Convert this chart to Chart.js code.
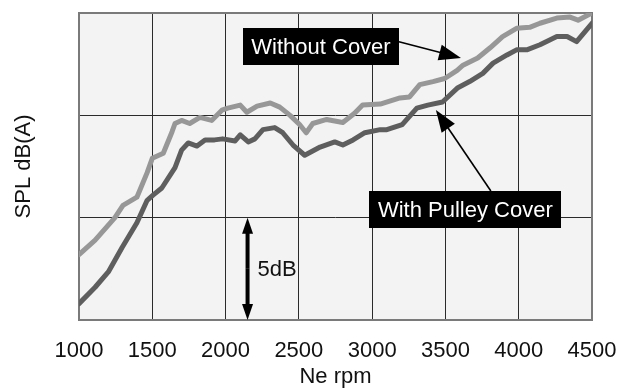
<!DOCTYPE html>
<html>
<head>
<meta charset="utf-8">
<script src="https://cdn.jsdelivr.net/npm/chart.js@4"></script>
<style>
  html, body { margin: 0; padding: 0; background: #fff; }
</style>
</head>
<body>
<canvas id="chart" width="618" height="388"></canvas>
<script>
(function () {
    // engine speed (rpm) and sound pressure level (dB, relative) for each run
    var rpmWithout = [1000, 1110, 1245, 1300, 1395, 1465, 1500, 1575, 1635, 1655, 1700, 1755, 1825, 1905, 1975, 2015,
        2100, 2145, 2215, 2305, 2370, 2440, 2505, 2550, 2595, 2690, 2800, 2880, 2935, 3055, 3190, 3255,
        3325, 3415, 3495, 3580, 3620, 3720, 3805, 3890, 3985, 4075, 4145, 4260, 4350, 4405, 4500];
    var splWithout = [3.2, 3.9, 5.0, 5.6, 6.0, 7.2, 7.9, 8.15, 9.2, 9.6, 9.75, 9.6, 9.9, 9.75, 10.25, 10.35,
        10.5, 10.15, 10.45, 10.6, 10.4, 10.0, 9.55, 9.15, 9.6, 9.8, 9.65, 10.1, 10.5, 10.55, 10.85, 10.9,
        11.5, 11.65, 11.8, 12.2, 12.45, 12.8, 13.3, 13.85, 14.25, 14.3, 14.5, 14.75, 14.8, 14.65, 15.0];

    var rpmPulley = [1000, 1110, 1200, 1295, 1395, 1465, 1505, 1565, 1655, 1700, 1745, 1805, 1860, 1925, 1980, 2065,
        2100, 2155, 2200, 2255, 2335, 2390, 2460, 2540, 2645, 2745, 2800, 2870, 2950, 3055, 3100, 3205,
        3305, 3380, 3480, 3585, 3665, 3755, 3825, 3920, 3985, 4055, 4145, 4260, 4330, 4395, 4500];
    var splPulley = [0.8, 1.6, 2.35, 3.55, 4.75, 5.85, 6.1, 6.45, 7.45, 8.3, 8.65, 8.5, 8.8, 8.8, 8.85, 8.75,
        9.05, 8.7, 8.85, 9.3, 9.4, 9.15, 8.55, 8.05, 8.45, 8.7, 8.55, 8.8, 9.15, 9.3, 9.3, 9.55,
        10.35, 10.5, 10.65, 11.35, 11.65, 12.05, 12.55, 12.95, 13.2, 13.2, 13.45, 13.85, 13.85, 13.6, 14.5];

    var seriesNames = ['Without Cover', 'With Pulley Cover'];
    var rpmTicks = [1000, 1500, 2000, 2500, 3000, 3500, 4000, 4500];

    var FONT = "'Liberation Sans', Arial, sans-serif";

    var toPoints = (xs, ys) => xs.map((x, i) => ({ x: x, y: ys[i] }));

    // callouts placed in data units so they follow the scales
    var callouts = [
        { text: seriesNames[0], box: [2651, 13.35], from: [3183, 13.6], to: [3606, 12.8] },
        { text: seriesNames[1], box: [3636, 5.4], from: [3810, 6.3], to: [3435, 10.26] }
    ];
    var scaleBar = { rpm: 2150, from: 0, to: 5, text: '5dB' };

    var drawArrow = (ctx, x1, y1, x2, y2, len, half) => {
        var a = Math.atan2(y2 - y1, x2 - x1), c = Math.cos(a), s = Math.sin(a);
        ctx.beginPath();
        ctx.moveTo(x1, y1);
        ctx.lineTo(x2 - c * len * 0.7, y2 - s * len * 0.7);
        ctx.stroke();
        ctx.beginPath();
        ctx.moveTo(x2, y2);
        ctx.lineTo(x2 - c * len + s * half, y2 - s * len - c * half);
        ctx.lineTo(x2 - c * len - s * half, y2 - s * len + c * half);
        ctx.closePath();
        ctx.fill();
    };

    var decorations = {
        id: 'decorations',
        beforeDraw: function (chart) {
            var a = chart.chartArea, ctx = chart.ctx;
            ctx.save();
            ctx.fillStyle = '#f3f3f3';
            ctx.fillRect(a.left, a.top, a.right - a.left, a.bottom - a.top);
            ctx.restore();
        },
        beforeDatasetsDraw: function (chart) {
            var a = chart.chartArea, ctx = chart.ctx;
            ctx.save();
            ctx.strokeStyle = '#7a7a7a';
            ctx.lineWidth = 2;
            ctx.strokeRect(a.left, a.top, a.right - a.left, a.bottom - a.top);
            ctx.restore();
        },
        afterDatasetsDraw: function (chart) {
            var ctx = chart.ctx, sx = chart.scales.x, sy = chart.scales.y;
            ctx.save();
            ctx.font = '22px ' + FONT;
            ctx.textBaseline = 'middle';

            callouts.forEach(function (c) {
                ctx.strokeStyle = '#000';
                ctx.fillStyle = '#000';
                ctx.lineWidth = 1.6;
                drawArrow(ctx, sx.getPixelForValue(c.from[0]), sy.getPixelForValue(c.from[1]),
                    sx.getPixelForValue(c.to[0]), sy.getPixelForValue(c.to[1]), 22, 8);

                var cx = sx.getPixelForValue(c.box[0]), cy = sy.getPixelForValue(c.box[1]);
                var w = ctx.measureText(c.text).width + 17, h = 37;
                ctx.fillRect(Math.round(cx - w / 2), Math.round(cy - h / 2), Math.round(w), h);
                ctx.fillStyle = '#fff';
                ctx.textAlign = 'center';
                ctx.fillText(c.text, cx, cy + 1);
            });

            // 5 dB scale bar
            var bx = sx.getPixelForValue(scaleBar.rpm);
            var y0 = sy.getPixelForValue(scaleBar.from), y1 = sy.getPixelForValue(scaleBar.to);
            ctx.fillStyle = '#000';
            ctx.strokeStyle = '#000';
            ctx.lineWidth = 4;
            var mid = (y0 + y1) / 2;
            drawArrow(ctx, bx, mid, bx, y1, 16, 5.5);
            drawArrow(ctx, bx, mid, bx, y0, 16, 5.5);
            ctx.textAlign = 'left';
            ctx.fillStyle = '#111';
            ctx.fillText(scaleBar.text, bx + 10, mid + 1);
            ctx.restore();
        }
    };

    new Chart(document.getElementById('chart').getContext('2d'), {
        type: 'line',
        data: {
            datasets: [{
                label: seriesNames[0],
                data: toPoints(rpmWithout, splWithout),
                borderColor: '#979797',
                borderWidth: 5,
                pointRadius: 0,
                tension: 0,
                borderJoinStyle: 'round',
                borderCapStyle: 'round'
            }, {
                label: seriesNames[1],
                data: toPoints(rpmPulley, splPulley),
                borderColor: '#5e5e5e',
                borderWidth: 5,
                pointRadius: 0,
                tension: 0,
                borderJoinStyle: 'round',
                borderCapStyle: 'round'
            }]
        },
        options: {
            responsive: false,
            animation: false,
            events: [],
            layout: { padding: { top: 13, right: 26, left: 0, bottom: 0 } },
            plugins: {
                legend: { display: false },
                tooltip: { enabled: false }
            },
            scales: {
                x: {
                    type: 'linear',
                    min: 1000,
                    max: 4500,
                    afterBuildTicks: function (scale) {
                        scale.ticks = rpmTicks.map(v => ({ value: v }));
                    },
                    afterFit: function (scale) {
                        scale.height = 68;
                        scale.paddingLeft = 0;
                        scale.paddingRight = 0;
                    },
                    grid: { color: '#2a2a2a', lineWidth: 1, drawTicks: false },
                    border: { display: false },
                    ticks: {
                        padding: 18,
                        color: '#111',
                        maxRotation: 0,
                        autoSkip: false,
                        callback: v => String(v),
                        font: { family: FONT, size: 22 }
                    },
                    title: {
                        display: true,
                        text: 'Ne rpm',
                        color: '#111',
                        padding: { top: 0, bottom: 0 },
                        font: { family: FONT, size: 22, lineHeight: 1.0 }
                    }
                },
                y: {
                    min: 0,
                    max: 15,
                    afterFit: function (scale) { scale.width = 79; },
                    grid: { color: '#2a2a2a', lineWidth: 1, drawTicks: false },
                    border: { display: false },
                    ticks: { display: false, stepSize: 5 },
                    title: {
                        display: true,
                        text: 'SPL dB(A)',
                        color: '#111',
                        padding: { top: 11, bottom: 0 },
                        font: { family: FONT, size: 22 }
                    }
                }
            }
        },
        plugins: [decorations]
    });
})();
</script>
</body>
</html>
